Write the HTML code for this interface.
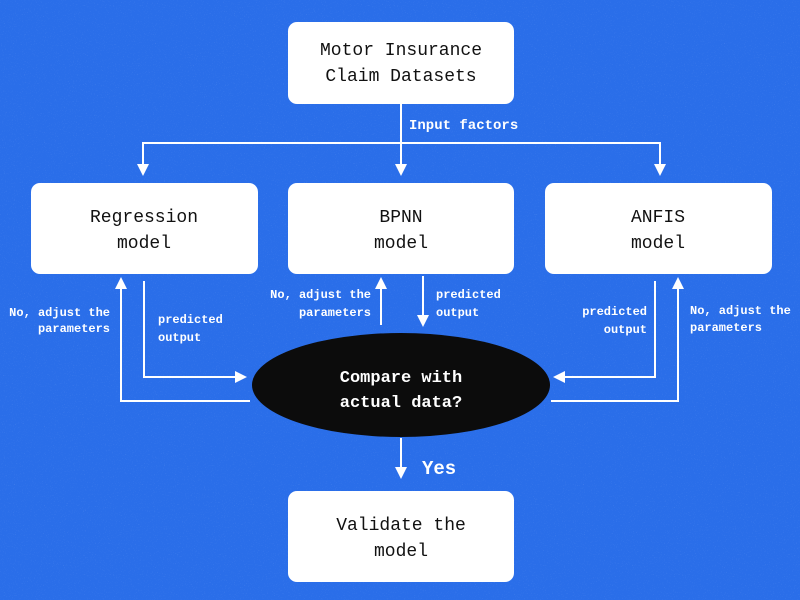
<!DOCTYPE html>
<html><head><meta charset="utf-8"><style>
html,body{margin:0;padding:0;width:800px;height:600px;overflow:hidden;background:#2a6ee9}
text{font-family:"Liberation Mono",monospace}
</style></head><body>
<svg width="800" height="600" viewBox="0 0 800 600" xmlns="http://www.w3.org/2000/svg">
<defs>
<filter id="n"><feTurbulence type="fractalNoise" baseFrequency="0.9" numOctaves="2" seed="3"/><feColorMatrix values="0 0 0 0 1 0 0 0 0 1 0 0 0 0 1 0 0 0 1.2 -0.75"/></filter>
<marker id="a" viewBox="0 0 12 12" refX="10" refY="6" markerWidth="12" markerHeight="12" markerUnits="userSpaceOnUse" orient="auto"><path d="M0,0L12,6L0,12z" fill="#fff"/></marker>
</defs>
<rect width="800" height="600" fill="#2a6ee9"/>
<rect width="800" height="600" filter="url(#n)" opacity="0.35"/>
<g fill="#fff">
<rect x="288" y="22" width="226" height="82" rx="9"/>
<rect x="31" y="183" width="227" height="91" rx="9"/>
<rect x="288" y="183" width="226" height="91" rx="9"/>
<rect x="545" y="183" width="227" height="91" rx="9"/>
<rect x="288" y="491" width="226" height="91" rx="9"/>
</g>
<ellipse cx="401" cy="385" rx="149" ry="52" fill="#0c0c0c"/>
<g stroke="#fff" stroke-width="2" fill="none">
<path d="M401 104V174" marker-end="url(#a)"/>
<path d="M143 174V143H660V174" />
<path d="M143 160V174" marker-end="url(#a)"/>
<path d="M660 160V174" marker-end="url(#a)"/>
<path d="M250 401H121V279" marker-end="url(#a)"/>
<path d="M144 281V377H245" marker-end="url(#a)"/>
<path d="M381 325V279" marker-end="url(#a)"/>
<path d="M423 276V325" marker-end="url(#a)"/>
<path d="M655 281V377H555" marker-end="url(#a)"/>
<path d="M551 401H678V279" marker-end="url(#a)"/>
<path d="M401 438V477" marker-end="url(#a)"/>
</g>
<g font-size="18" fill="#111" text-anchor="middle">
<text x="401" y="55">Motor Insurance</text>
<text x="401" y="81">Claim Datasets</text>
<text x="144" y="222">Regression</text>
<text x="144" y="248">model</text>
<text x="401" y="222">BPNN</text>
<text x="401" y="248">model</text>
<text x="658" y="222">ANFIS</text>
<text x="658" y="248">model</text>
<text x="401" y="530">Validate the</text>
<text x="401" y="556">model</text>
</g>
<g fill="#fff" font-weight="bold">
<text x="401" y="382" font-size="17" text-anchor="middle">Compare with</text>
<text x="401" y="407" font-size="17" text-anchor="middle">actual data?</text>
<text x="422" y="474" font-size="19">Yes</text>
<text x="409" y="129" font-size="14">Input factors</text>
<g font-size="12">
<text x="110" y="316" text-anchor="end">No, adjust the</text>
<text x="110" y="332" text-anchor="end">parameters</text>
<text x="158" y="323">predicted</text>
<text x="158" y="341">output</text>
<text x="371" y="298" text-anchor="end">No, adjust the</text>
<text x="371" y="316" text-anchor="end">parameters</text>
<text x="436" y="298">predicted</text>
<text x="436" y="316">output</text>
<text x="647" y="315" text-anchor="end">predicted</text>
<text x="647" y="333" text-anchor="end">output</text>
<text x="690" y="314">No, adjust the</text>
<text x="690" y="331">parameters</text>
</g>
</g>
</svg>
</body></html>
